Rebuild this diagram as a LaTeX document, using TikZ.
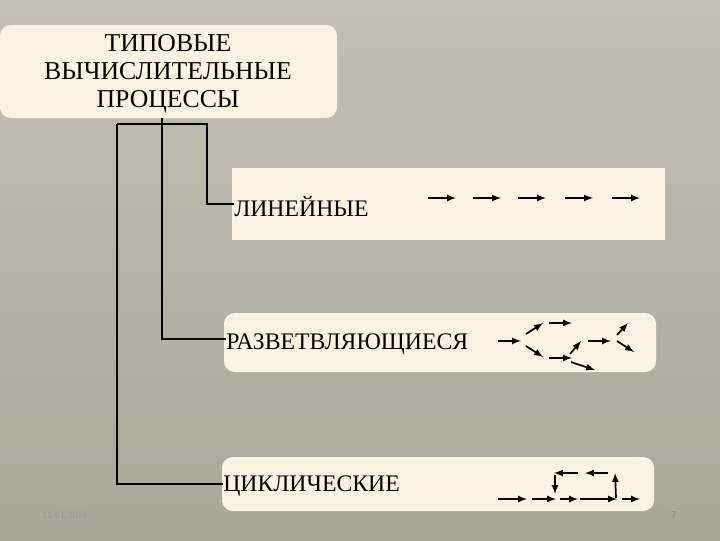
\documentclass[tikz,border=0pt]{standalone}
\usepackage{fontspec}
\setmainfont{Liberation Serif}
\begin{document}
\begin{tikzpicture}[x=0.75pt,y=-0.75pt,
  panel/.style={fill=cream,draw=none},
  ln/.style={line width=2.2pt,black},
  ar/.style={line width=1.3pt,-latex,black},
  lbl/.style={font=\fontsize{17.8}{19}\selectfont,anchor=west,inner sep=0pt}]
\definecolor{cream}{HTML}{FBF3E2}
\definecolor{bgA}{HTML}{C3C0B3}
\definecolor{bgB}{HTML}{A9A796}
\shade[top color=bgA,bottom color=bgB] (0,0) rectangle (720,540);
\useasboundingbox (0,0) rectangle (720,540);
\fill[panel,rounded corners=8pt] (0,25) rectangle (337,118);
\node[font=\fontsize{19.3}{21}\selectfont,align=center] (title) at (168,74) {ТИПОВЫЕ\\ВЫЧИСЛИТЕЛЬНЫЕ\\ПРОЦЕССЫ};
\fill[panel] (232,168) rectangle (665,240);
\fill[panel,rounded corners=8pt] (224,313) rectangle (656,372);
\fill[panel,rounded corners=8pt] (222,457) rectangle (654,511);
\node[lbl] (lin) at (234,207) {ЛИНЕЙНЫЕ};
\node[lbl] (raz) at (226,344) {РАЗВЕТВЛЯЮЩИЕСЯ};
\node[lbl] (cyc) at (223,486) {ЦИКЛИЧЕСКИЕ};
\coordinate (t0) at (162,118);
\coordinate (tl) at (117,124);
\coordinate (tr) at (207,124);
\draw[ln] (t0) -- (162,339) -- (raz.west|-0,339);
\draw[ln] (tl) -- (tr) -- (207,204) -- (lin.west|-0,204);
\draw[ln] (tl) -- (117,484) -- (cyc.west|-0,484);
% linear
\foreach \a in {428,473,518,565,612} \draw[ar] (\a,198) -- (\a+28,198);
% branching
\draw[ar] (498,341) -- (521,341);
\draw[ar] (526,334) -- (543,323);
\draw[ar] (526,346) -- (543,357);
\draw[ar] (549,323) -- (572,323);
\draw[ar] (549,358) -- (572,358);
\draw[ar] (570,354) -- (581,341);
\draw[ar] (588,341) -- (611,341);
\draw[ar] (617,335) -- (628,323);
\draw[ar] (617,341) -- (634,352);
\draw[ar] (571,362) -- (595,370);
% cyclic
\draw[ar] (498,499) -- (527,499);
\draw[ar] (532,499) -- (556,499);
\draw[ar] (560,499) -- (578,499);
\draw[ar] (580,499) -- (617,499);
\draw[ar] (622,499) -- (640,499);
\draw[ar] (616,498) -- (615,473);
\draw[ar] (608,473) -- (585,473);
\draw[ar] (578,473) -- (554,473);
\draw[ar] (555,475) -- (555,494);
\node[font=\fontsize{7}{8}\selectfont\sffamily,text=gray!80] (date) at (65,515) {11.01.2016};
\node[font=\fontsize{8}{9}\selectfont\sffamily,text=black!45] (pg) at (674,515) {7};
\end{tikzpicture}
\end{document}
